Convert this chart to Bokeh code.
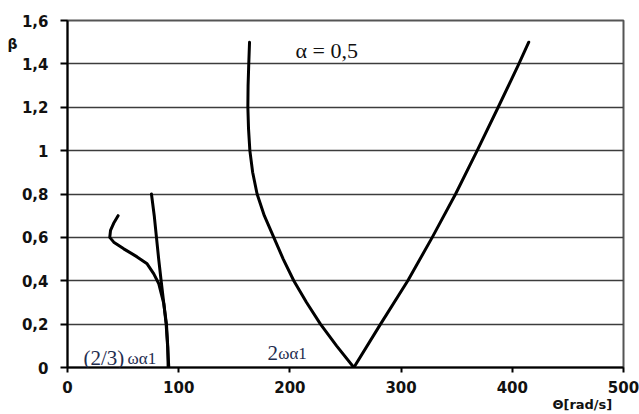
from bokeh.plotting import figure
from bokeh.models import Range1d, FixedTicker, Label, LinearAxis
from bokeh.embed import file_html
from bokeh.resources import INLINE

# ---- data ----
# branch "(2/3)ωα1" : loop curve
loop_x = [45.5, 41.5, 38.7, 38.0, 41.6, 50.6, 62.6, 71.6, 77.6, 82.1, 86.6, 89.0, 90.2, 90.5]
loop_y = [0.70, 0.665, 0.632, 0.60, 0.578, 0.547, 0.51, 0.478, 0.432, 0.386, 0.294, 0.20, 0.094, 0.0]
# near-straight branch
line_x = [75.5, 78.0, 80.0, 82.0, 84.2, 86.5, 88.7, 90.0, 91.1]
line_y = [0.80, 0.70, 0.60, 0.50, 0.40, 0.30, 0.20, 0.10, 0.0]
# left branch of the "V" (2ωα1)
left_x = [163.7, 163.0, 162.4, 162.2, 162.8, 164.0, 166.5, 170.5, 177.0, 185.5, 194.0, 203.5, 215.0, 227.5, 242.0, 257.5]
left_y = [1.50, 1.40, 1.30, 1.20, 1.10, 1.00, 0.90, 0.80, 0.70, 0.60, 0.50, 0.40, 0.30, 0.20, 0.10, 0.0]
# right branch of the "V"
right_x = [257.5, 281.5, 306.0, 328.0, 349.0, 368.4, 387.3, 405.9, 414.8]
right_y = [0.0, 0.2, 0.4, 0.6, 0.8, 1.0, 1.2, 1.4, 1.5]

x_ticks = [0, 100, 200, 300, 400, 500]
y_ticks = [0, 0.2, 0.4, 0.6, 0.8, 1.0, 1.2, 1.4, 1.6]
y_tick_labels = ["0", "0,2", "0,4", "0,6", "0,8", "1", "1,2", "1,4", "1,6"]
x_title, x_title_pos = "Θ[rad/s]", 463
y_title, y_title_pos = "β", 1.49

p = figure(width=639, height=414, output_backend="svg", toolbar_location=None,
           x_range=Range1d(0, 500), y_range=Range1d(0, 1.6),
           min_border_left=67, min_border_right=16, min_border_top=20, min_border_bottom=47)
p.background_fill_color = "white"
p.border_fill_color = "white"
p.outline_line_color = "#555555"
p.outline_line_width = 2

# grid
p.xgrid.grid_line_color = None
p.ygrid.grid_line_color = "#3c3c3c"
p.ygrid.grid_line_width = 1.6
p.ygrid.ticker = FixedTicker(ticks=y_ticks)

# axes
tick_font = "DejaVu Sans"
p.xaxis.ticker = FixedTicker(ticks=x_ticks)
p.yaxis.ticker = FixedTicker(ticks=y_ticks)
p.yaxis.major_label_overrides = {t: l for t, l in zip(y_ticks, y_tick_labels)}
for ax in (p.xaxis[0], p.yaxis[0]):
    ax.axis_line_color = "black"
    ax.axis_line_width = 2
    ax.major_tick_line_color = "black"
    ax.major_tick_line_width = 2
    ax.major_tick_in = 0
    ax.minor_tick_line_color = None
    ax.major_label_text_font = tick_font
    ax.major_label_text_font_style = "bold"
    ax.major_label_text_font_size = "15px"
    ax.major_label_text_color = "#111111"
p.yaxis.major_tick_out = 7
p.xaxis.major_tick_out = 5
p.yaxis.major_label_standoff = 12
p.xaxis.major_label_standoff = 8

# axis titles, drawn as single-label helper axes placed where the reference has them
def title_axis(pos, text, size):
    a = LinearAxis(ticker=FixedTicker(ticks=[pos]), major_label_overrides={pos: text})
    a.axis_line_color = None
    a.major_tick_line_color = None
    a.minor_tick_line_color = None
    a.major_tick_in = 0
    a.major_tick_out = 0
    a.major_label_standoff = 1
    a.major_label_text_font = tick_font
    a.major_label_text_font_style = "bold"
    a.major_label_text_font_size = size
    a.major_label_text_color = "#111111"
    return a

p.add_layout(title_axis(y_title_pos, y_title, "14px"), "left")
p.add_layout(title_axis(x_title_pos, x_title, "13px"), "below")

# curves
for xs, ys in ((loop_x, loop_y), (line_x, line_y), (left_x, left_y), (right_x, right_y)):
    p.line(xs, ys, line_color="black", line_width=3, line_join="round", line_cap="round")

# annotations
serif = "Liberation Serif"
navy = "#1f2d4f"
p.add_layout(Label(x=205, y=1.463, text="α = 0,5", text_font=serif, text_font_size="22px",
                   text_color="#111111", text_baseline="alphabetic"))
p.add_layout(Label(x=14.4, y=0.042, text="(2/3)", text_font=serif, text_font_size="21px",
                   text_color=navy, text_baseline="alphabetic"))
p.add_layout(Label(x=54.0, y=0.042, text="ωα1", text_font=serif, text_font_size="17px",
                   text_color=navy, text_baseline="alphabetic"))
p.add_layout(Label(x=179.9, y=0.066, text="2", text_font=serif, text_font_size="21px",
                   text_color=navy, text_baseline="alphabetic"))
p.add_layout(Label(x=189.5, y=0.066, text="ωα1", text_font=serif, text_font_size="17px",
                   text_color=navy, text_baseline="alphabetic"))

open("out.html", "w").write(file_html(p, INLINE))
